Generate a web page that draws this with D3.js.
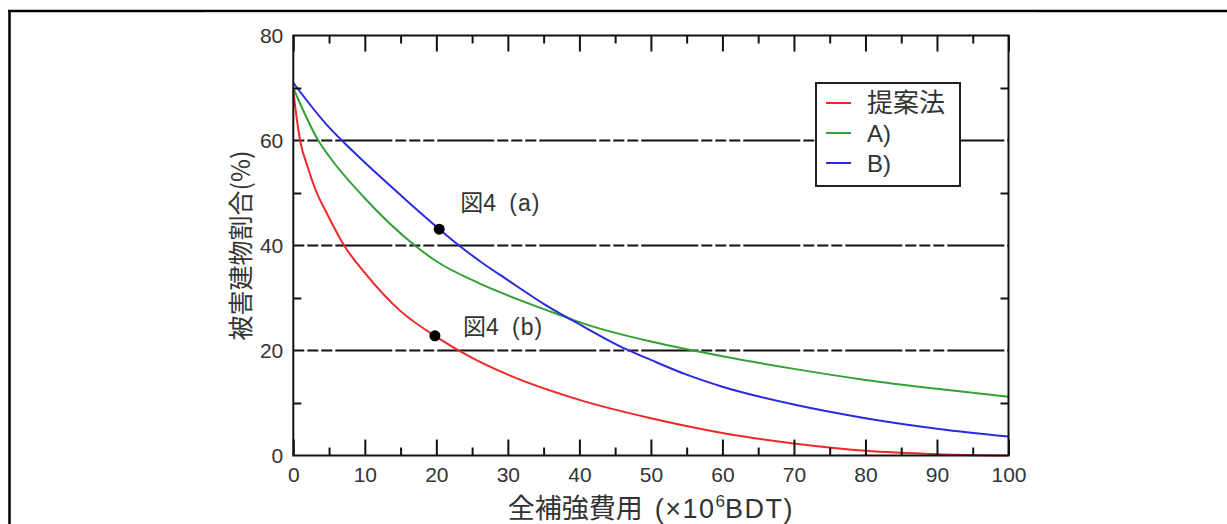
<!DOCTYPE html>
<html>
<head>
<meta charset="utf-8">
<script src="https://cdn.jsdelivr.net/npm/d3@7/dist/d3.min.js"></script>
<style>
  html, body { margin: 0; padding: 0; background: #fff; }
  svg text { font-family: "Liberation Sans", Arial, "Noto Sans CJK JP", sans-serif; fill: #333; }
  .jp { font-family: "Noto Sans CJK JP", "Liberation Sans", sans-serif; }
</style>
</head>
<body>
<svg id="chart" width="1227" height="524"></svg>
<script>
// data
const xMajor = [0, 10, 20, 30, 40, 50, 60, 70, 80, 90, 100];
const xMinor = [5, 15, 25, 35, 45, 55, 65, 75, 85, 95];
const yMajor = [0, 20, 40, 60, 80];
const yMinor = [10, 30, 50, 70];
const gridY = [20, 40, 60];

const seriesNames = ["提案法", "A)", "B)"];
const seriesColors = ["#f02828", "#35a035", "#2a2ae0"];

const costX = [0, 0.5, 1, 2, 3, 5, 7.2, 10, 15, 20, 25, 30, 40, 50, 60, 70, 80, 90, 100];
const proposed = [69.5, 64, 59.7, 55, 51, 45.3, 39.8, 34.8, 27.5, 22.6, 18.6, 15.4, 10.6, 7.1, 4.3, 2.3, 0.9, 0.25, 0];

const costXA = [0, 3.5, 5, 10, 17, 20, 26, 30, 38.6, 40, 50, 55.9, 60, 70, 80, 90, 100];
const methodA = [70, 60, 57, 49, 40, 37, 32.8, 30.5, 26.1, 25.4, 21.7, 20, 18.9, 16.5, 14.4, 12.7, 11.2];

const costXB = [0, 5, 6.8, 10, 15, 20, 23, 26, 30, 35, 40, 46.6, 50, 55, 60, 70, 80, 90, 100];
const methodB = [71, 62.5, 60, 55.8, 49.6, 43.6, 40.2, 37.1, 33.4, 28.9, 25.0, 20.2, 18.2, 15.4, 13.1, 9.7, 7.1, 5.1, 3.6];

const marks = [
  { x: 20.4, y: 43.1, label: "4 (a)" },
  { x: 19.8, y: 22.8, label: "4 (b)" }
];

const svg = d3.select("#chart");

// outer frame
svg.append("line").attr("x1", 8).attr("x2", 1227).attr("y1", 11).attr("y2", 11)
  .attr("stroke", "#000").attr("stroke-width", 2.5);
svg.append("line").attr("x1", 9.5).attr("x2", 9.5).attr("y1", 10).attr("y2", 524)
  .attr("stroke", "#000").attr("stroke-width", 2.5);
svg.append("line").attr("x1", 205).attr("x2", 1038).attr("y1", 12.8).attr("y2", 12.8)
  .attr("stroke", "#e4e4e4").attr("stroke-width", 1);

const pLeft = 293.3, pRight = 1008.5, pTop = 35.5, pBottom = 455.5;
const x = d3.scaleLinear().domain([0, 100]).range([pLeft, pRight]);
const y = d3.scaleLinear().domain([0, 80]).range([pBottom, pTop]);

// dashed grid lines
svg.append("g").selectAll("line").data(gridY).enter().append("line")
  .attr("x1", pLeft).attr("x2", pRight)
  .attr("y1", d => y(d)).attr("y2", d => y(d))
  .attr("stroke", "#111").attr("stroke-width", 2)
  .attr("stroke-dasharray", "11,3,11,3,11,3,57,3");

// curves
const line = d3.line().curve(d3.curveMonotoneX).x(d => x(d[0])).y(d => y(d[1]));
const curves = [
  d3.zip(costX, proposed),
  d3.zip(costXA, methodA),
  d3.zip(costXB, methodB)
];
svg.append("g").selectAll("path").data(curves).enter().append("path")
  .attr("d", line)
  .attr("fill", "none")
  .attr("stroke", (d, i) => seriesColors[i])
  .attr("stroke-width", 2);

// axes
function styleAxis(g) {
  g.select(".domain").remove();
  g.selectAll(".tick line").attr("stroke", "#111").attr("stroke-width", 2);
  g.selectAll(".tick text").attr("font-size", 21).attr("fill", "#333")
    .attr("font-family", "'Liberation Sans', Arial, sans-serif");
}
svg.append("g").attr("transform", `translate(0,${pBottom})`)
  .call(d3.axisBottom(x).tickValues(xMajor).tickSize(-16).tickPadding(12))
  .call(styleAxis);
svg.append("g").attr("transform", `translate(0,${pBottom})`)
  .call(d3.axisBottom(x).tickValues(xMinor).tickSize(-8).tickFormat(""))
  .call(styleAxis);
svg.append("g").attr("transform", `translate(0,${pTop})`)
  .call(d3.axisTop(x).tickValues(xMajor).tickSize(-16).tickFormat(""))
  .call(styleAxis);
svg.append("g").attr("transform", `translate(0,${pTop})`)
  .call(d3.axisTop(x).tickValues(xMinor).tickSize(-8).tickFormat(""))
  .call(styleAxis);
svg.append("g").attr("transform", `translate(${pLeft},0)`)
  .call(d3.axisLeft(y).tickValues(yMajor).tickSize(0).tickPadding(10))
  .call(styleAxis);
svg.append("g").attr("transform", `translate(${pLeft},0)`)
  .call(d3.axisLeft(y).tickValues(yMinor).tickSize(-8).tickFormat(""))
  .call(styleAxis);
svg.append("g").attr("transform", `translate(${pRight},0)`)
  .call(d3.axisRight(y).tickValues(yMinor).tickSize(-8).tickFormat(""))
  .call(styleAxis);

// plot frame
svg.append("rect").attr("x", pLeft).attr("y", pTop)
  .attr("width", pRight - pLeft).attr("height", pBottom - pTop)
  .attr("fill", "none").attr("stroke", "#111").attr("stroke-width", 2);

// marked points
svg.append("g").selectAll("circle").data(marks).enter().append("circle")
  .attr("cx", d => x(d.x)).attr("cy", d => y(d.y)).attr("r", 5.5).attr("fill", "#000");
const ann = svg.append("g").selectAll("text").data(marks).enter().append("text")
  .attr("x", (d, i) => x(d.x) + (i === 0 ? 21 : 28))
  .attr("y", (d, i) => i === 0 ? 211 : 335)
  .attr("font-size", 23);
ann.append("tspan").attr("class", "jp").text("図");
ann.append("tspan").attr("letter-spacing", 1).attr("word-spacing", 5).text(d => d.label);

// legend
const legend = svg.append("g").attr("transform", "translate(816,83)");
legend.append("rect").attr("width", 144).attr("height", 103)
  .attr("fill", "#fff").attr("stroke", "#222").attr("stroke-width", 2);
const rows = legend.selectAll("g.row").data(seriesNames).enter().append("g")
  .attr("class", "row")
  .attr("transform", (d, i) => `translate(0,${20 + i * 30})`);
rows.append("line").attr("x1", 10).attr("x2", 35)
  .attr("stroke", (d, i) => seriesColors[i]).attr("stroke-width", 2);
rows.append("text")
  .attr("class", (d, i) => i === 0 ? "jp" : null)
  .attr("x", 51)
  .attr("y", (d, i) => i === 0 ? 9 : 8.5)
  .attr("font-size", (d, i) => i === 0 ? 26 : 24)
  .text(d => d);

// axis titles
svg.append("text").attr("class", "jp")
  .attr("transform", `translate(239,${(pTop + pBottom) / 2}) rotate(-90)`)
  .attr("text-anchor", "middle").attr("dominant-baseline", "central")
  .attr("font-size", 25)
  .text("被害建物割合(%)");

const xt = svg.append("text")
  .attr("x", (pLeft + pRight) / 2).attr("y", 518)
  .attr("text-anchor", "middle").attr("font-size", 27);
xt.append("tspan").attr("class", "jp").text("全補強費用");
xt.append("tspan").attr("dx", 12).attr("letter-spacing", 1.5).text("(×10");
xt.append("tspan").attr("dy", -11).attr("font-size", 17).text("6");
xt.append("tspan").attr("dy", 11).attr("letter-spacing", 1.5).text("BDT)");
</script>
</body>
</html>
